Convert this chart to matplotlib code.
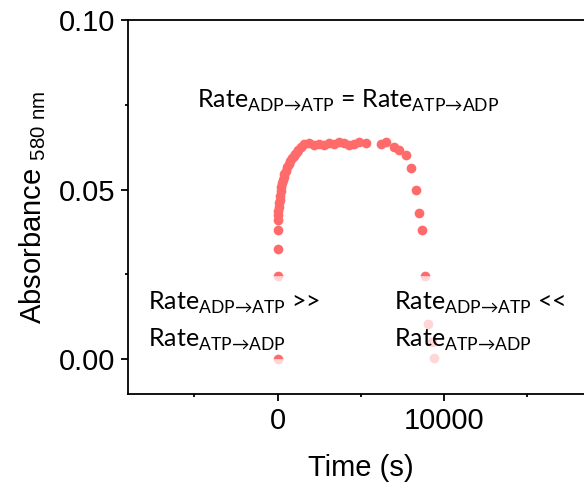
import matplotlib
matplotlib.use("Agg")
import matplotlib.pyplot as plt
from matplotlib.ticker import MultipleLocator

plt.rcParams['font.family'] = ['Liberation Sans', 'DejaVu Sans']
plt.rcParams['mathtext.fontset'] = 'custom'
plt.rcParams['mathtext.rm'] = 'Liberation Sans'
plt.rcParams['mathtext.sf'] = 'Lato'

# time (s) and absorbance at 580 nm
time_s = [0, 0, 0, 0, 0, 20, 40, 60, 90, 120, 150, 180, 220, 260, 300, 350,
          400, 480, 560, 650, 750, 850, 950, 1050, 1150, 1250, 1400, 1580,
          1900, 2200, 2500, 2800, 3100, 3400, 3700, 4000, 4300, 4600, 4900,
          5300, 6200, 6500, 7000, 7300, 7700, 8000, 8300, 8480, 8670, 8850,
          9030, 9270, 9400]
absorb = [0.0, 0.0244, 0.0326, 0.038, 0.041, 0.0425, 0.0438, 0.0448, 0.046,
          0.047, 0.048, 0.0497, 0.0508, 0.0518, 0.0527, 0.0537, 0.0545, 0.0556,
          0.0566, 0.0575, 0.0585, 0.0593, 0.06, 0.0606, 0.0612, 0.0618, 0.0626,
          0.0635, 0.0638, 0.0632, 0.0635, 0.0632, 0.0638, 0.0635, 0.064,
          0.0638, 0.0632, 0.0635, 0.0641, 0.0638, 0.0635, 0.0641, 0.0626,
          0.0618, 0.0603, 0.0565, 0.050, 0.0432, 0.038, 0.0244, 0.0103,
          0.005, 0.0003]
# points partly / fully covered by the label boxes
half_hidden = [(0, 0.0), (0, 0.0244), (8850, 0.0244)]
hidden = [(9030, 0.0103), (9270, 0.005), (9400, 0.0003)]

red = '#FF6B6B'
pale = '#FFD6D6'

fig = plt.figure(figsize=(5.84, 4.88), dpi=100)
ax = fig.add_axes([0.219, 0.1926, 0.798, 0.7664])

skip = set(half_hidden) | set(hidden)
xs = [t for t, a in zip(time_s, absorb) if (t, a) not in skip]
ys = [a for t, a in zip(time_s, absorb) if (t, a) not in skip]
ax.plot(xs, ys, 'o', color=red, ms=7, mec='none')
ax.plot([p[0] for p in half_hidden], [p[1] for p in half_hidden], 'o', ms=7,
        color=red, fillstyle='top', markerfacecoloralt=pale, mec='none')
ax.plot([p[0] for p in hidden], [p[1] for p in hidden], 'o', ms=7,
        color=pale, mec='none')

ax.set_xlim(-9000, 19000)
ax.set_ylim(-0.0103, 0.10)
ax.xaxis.set_major_locator(MultipleLocator(10000))
ax.xaxis.set_minor_locator(MultipleLocator(5000))
ax.yaxis.set_major_locator(MultipleLocator(0.05))
ax.yaxis.set_minor_locator(MultipleLocator(0.025))
ax.set_yticks([0.0, 0.05, 0.10], ['0.00', '0.05', '0.10'])

for s in ['left', 'bottom', 'top']:
    ax.spines[s].set_linewidth(1.3)
ax.spines['right'].set_visible(False)
ax.tick_params(which='major', length=5, width=1.3, labelsize=21, pad=4)
ax.tick_params(which='minor', length=2.5, width=1.3)

ax.set_xlabel('Time (s)', fontsize=21, labelpad=14)
ax.set_ylabel(r'Absorbance $_{\mathrm{580\ nm}}$', fontsize=21, labelpad=8)

fs = 18
fwd = r'$_{\mathsf{ADP→ATP}}$'
rev = r'$_{\mathsf{ATP→ADP}}$'
ax.text(-4850, 0.0741, 'Rate' + fwd + ' = Rate' + rev, fontsize=fs,
        family='Lato', va='baseline')
ax.text(-7800, 0.0144, 'Rate' + fwd + ' >>', fontsize=fs, family='Lato', va='baseline')
ax.text(-7800, 0.0035, 'Rate' + rev, fontsize=fs, family='Lato', va='baseline')
ax.text(6970, 0.0144, 'Rate' + fwd + ' <<', fontsize=fs, family='Lato', va='baseline')
ax.text(6970, 0.0035, 'Rate' + rev, fontsize=fs, family='Lato', va='baseline')

fig.savefig('out.png', dpi=100)
